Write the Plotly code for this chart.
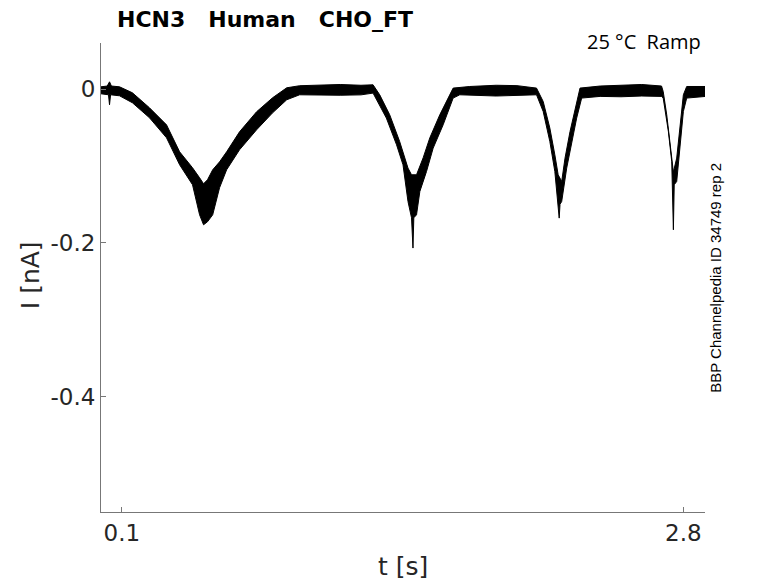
import plotly.graph_objects as go

# upper and lower edge of the noisy current trace
t_upper = [0.000, 0.030, 0.041, 0.050, 0.089, 0.151, 0.233, 0.315, 0.378, 0.440, 0.474, 0.493, 0.512, 0.537, 0.570,
           0.604, 0.666, 0.748, 0.825, 0.893, 0.955, 1.050, 1.150, 1.250, 1.308,
           1.340, 1.388, 1.436, 1.476, 1.493, 1.517, 1.549, 1.581, 1.629, 1.677, 1.693, 1.773,
           1.900, 2.000, 2.094, 2.126, 2.158, 2.182, 2.198, 2.215, 2.231, 2.255, 2.279, 2.303,
           2.400, 2.500, 2.600, 2.695, 2.703, 2.720, 2.736, 2.749, 2.752, 2.768, 2.784, 2.800, 2.816, 2.904]
i_upper = [0.003, 0.004, 0.0095, 0.004, 0.003, -0.0048, -0.0243, -0.0465, -0.0816, -0.1024, -0.1154, -0.1232, -0.118, -0.105, -0.0947,
           -0.0816, -0.0556, -0.0295, -0.0113, 0.0017, 0.0044, 0.005, 0.006, 0.005, 0.0056,
           -0.0074, -0.0334, -0.0682, -0.1028, -0.1115, -0.1115, -0.0894, -0.0634, -0.0334, -0.0074, 0.0013, 0.0034,
           0.005, 0.0045, 0.0013, -0.0161, -0.0507, -0.0855, -0.1115, -0.1202, -0.0898, -0.0552, -0.0247, 0.0013,
           0.004, 0.005, 0.006, 0.004, -0.0031, -0.0334, -0.0682, -0.1028, -0.108, -0.0898, -0.0465, -0.0074, 0.0034, 0.0034]

t_lower = [0.000, 0.036, 0.041, 0.046, 0.089, 0.151, 0.233, 0.315, 0.378, 0.440, 0.474, 0.493, 0.512, 0.537, 0.570,
           0.604, 0.666, 0.748, 0.825, 0.893, 0.955, 1.050, 1.150, 1.250, 1.308,
           1.372, 1.421, 1.452, 1.476, 1.493, 1.500, 1.504, 1.517, 1.533, 1.565, 1.597, 1.645, 1.693, 1.725,
           1.900, 2.000, 2.094, 2.126, 2.158, 2.182, 2.198, 2.203, 2.207, 2.215, 2.239, 2.263, 2.287, 2.311,
           2.400, 2.500, 2.600, 2.695, 2.703, 2.728, 2.744, 2.752, 2.756, 2.768, 2.784, 2.800, 2.816, 2.904]
i_lower = [-0.0061, -0.0074, -0.0204, -0.0074, -0.0087, -0.0178, -0.0373, -0.0634, -0.0985, -0.1245, -0.1636, -0.1766, -0.1727, -0.1636, -0.1284,
           -0.105, -0.079, -0.053, -0.0309, -0.0139, -0.0074, -0.008, -0.008, -0.0075, -0.0052,
           -0.0377, -0.0725, -0.0985, -0.1463, -0.1675, -0.2069, -0.1675, -0.1636, -0.1332, -0.1072, -0.0768, -0.0465, -0.0117, -0.0074,
           -0.009, -0.0085, -0.0074, -0.0291, -0.0682, -0.1072, -0.1506, -0.1679, -0.15, -0.1463, -0.1028, -0.0682, -0.0377, -0.0117,
           -0.0095, -0.010, -0.009, -0.0095, -0.0117, -0.0552, -0.0942, -0.1831, -0.1245, -0.1202, -0.0768, -0.0291, -0.0117, -0.0096]

x_ticks = [0.1, 2.8]
x_tick_labels = ["0.1", "2.8"]
y_ticks = [0, -0.2, -0.4]
y_tick_labels = ["0", "-0.2", "-0.4"]

nb = "\u00a0"
title_text = "HCN3" + nb * 3 + "Human" + nb * 3 + "CHO_FT"
cond_text = "25" + nb + "°C" + nb * 2 + "Ramp"
id_text = "BBP Channelpedia ID 34749 rep 2"

band_t = t_upper + t_lower[::-1]
band_i = i_upper + i_lower[::-1]

fig = go.Figure()
fig.add_trace(go.Scatter(
    x=band_t, y=band_i,
    mode='lines', fill='toself',
    fillcolor='black',
    line=dict(color='black', width=1),
    hoverinfo='skip', showlegend=False
))

axis_color = '#777777'
tick_font = dict(family='DejaVu Sans', size=23, color='#262626')

# the page body adds an 8px offset, so the figure is 8px smaller than the window
fig.update_layout(
    width=770, height=575,
    margin=dict(l=93, r=73, t=35, b=71),
    plot_bgcolor='white', paper_bgcolor='white',
    showlegend=False,
    xaxis=dict(
        range=[0, 2.904], showgrid=False, zeroline=False,
        showline=True, linecolor=axis_color, linewidth=1,
        ticks='inside', ticklen=5, tickcolor=axis_color,
        tickvals=x_ticks, ticktext=x_tick_labels, tickfont=tick_font,
    ),
    yaxis=dict(
        range=[-0.5504, 0.060], showgrid=False, zeroline=False,
        showline=True, linecolor=axis_color, linewidth=1,
        ticks='inside', ticklen=5, tickcolor=axis_color,
        tickvals=y_ticks, ticktext=y_tick_labels, tickfont=tick_font,
    ),
)

fig.add_annotation(text=title_text, xref='paper', yref='paper', x=0.025, y=1.05,
                   xanchor='left', yanchor='middle', showarrow=False, borderpad=0,
                   font=dict(family='DejaVu Sans', size=22, color='black', weight='bold'))
fig.add_annotation(text=cond_text, xref='paper', yref='paper', x=0.997, y=1.004,
                   xanchor='right', yanchor='middle', showarrow=False,
                   font=dict(family='Open Sans', size=20, color='black'))
fig.add_annotation(text=id_text, xref='paper', yref='paper', x=1.018, y=0.499,
                   xanchor='center', yanchor='middle', textangle=-90, showarrow=False,
                   font=dict(family='Liberation Sans', size=15, color='black'))
fig.add_annotation(text="t [s]", xref='paper', yref='paper', x=0.5, y=-0.117,
                   xanchor='center', yanchor='middle', showarrow=False,
                   font=dict(family='DejaVu Sans', size=25, color='#262626'))
fig.add_annotation(text="I [nA]", xref='paper', yref='paper', x=-0.1175, y=0.505,
                   xanchor='center', yanchor='middle', textangle=-90, showarrow=False,
                   font=dict(family='DejaVu Sans', size=25, color='#262626'))

fig.write_html("out.html")
